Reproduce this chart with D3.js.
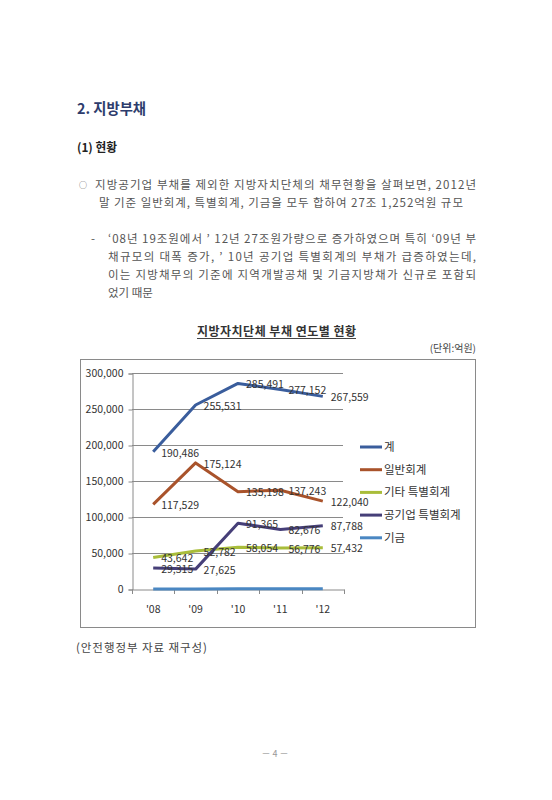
<!DOCTYPE html>
<html>
<head>
<meta charset="utf-8">
<script src="https://cdn.jsdelivr.net/npm/d3@7"></script>
<style>
	body { margin: 0; background: #fff; }
	svg { display: block; font-family: "Noto Sans CJK KR", "Noto Sans", sans-serif; }
</style>
</head>
<body>
<svg id="page"></svg>
<script>
// chart data
var years = ["'08", "'09", "'10", "'11", "'12"];
var seriesNames = ["계", "일반회계", "기타 특별회계", "공기업 특별회계", "기금"];
var total = [190486, 255531, 285491, 277152, 267559];
var general = [117529, 175124, 135198, 137243, 122040];
var otherSpecial = [43642, 52782, 58054, 56776, 57432];
var enterprise = [29315, 27625, 91365, 82676, 87788];
var fund = [0, 0, 300, 300, 300];
var yTicks = [0, 50000, 100000, 150000, 200000, 250000, 300000];

// page text
var bulletLines = [
	"지방공기업 부채를 제외한 지방자치단체의 채무현황을 살펴보면, 2012년",
	"말 기준 일반회계, 특별회계, 기금을 모두 합하여 27조 1,252억원 규모"
];
var dashLines = [
	"‘08년 19조원에서 ’ 12년 27조원가량으로 증가하였으며 특히 ‘09년 부",
	"채규모의 대폭 증가, ’ 10년 공기업 특별회계의 부채가 급증하였는데,",
	"이는 지방채무의 기준에 지역개발공채 및 기금지방채가 신규로 포함되",
	"었기 때문"
];

var series = [
	{ name: seriesNames[0], values: total, color: "#3a5d9c", labels: true },
	{ name: seriesNames[1], values: general, color: "#a9532b", labels: true },
	{ name: seriesNames[2], values: otherSpecial, color: "#a9bd3a", labels: true },
	{ name: seriesNames[3], values: enterprise, color: "#463f78", labels: true },
	{ name: seriesNames[4], values: fund, color: "#4a87c2", labels: false }
];

var svg = d3.select("#page").attr("width", 552).attr("height", 800);

// heading and body text
svg.append("text").attr("x", 77).attr("y", 114)
	.attr("textLength", 69).attr("lengthAdjust", "spacingAndGlyphs")
	.style("font-size", "15px").style("font-weight", "bold").style("fill", "#2d3c6c")
	.text("2. 지방부채");
svg.append("text").attr("x", 77).attr("y", 152)
	.attr("textLength", 40).attr("lengthAdjust", "spacingAndGlyphs")
	.style("font-size", "12px").style("font-weight", "bold").style("fill", "#222")
	.text("(1) 현황");

svg.append("text").attr("x", 79).attr("y", 187.5)
	.style("font-size", "8px").style("fill", "#555").text("○");
var bulletStarts = [95, 99], bulletEnds = [476, 463];
bulletLines.forEach(function(line, i) {
	svg.append("text")
		.attr("x", bulletStarts[i]).attr("y", 189 + i * 18)
		.attr("textLength", bulletEnds[i] - bulletStarts[i])
		.attr("lengthAdjust", "spacing")
		.style("font-size", "11.5px").style("fill", "#555")
		.text(line);
});

svg.append("text").attr("x", 91).attr("y", 243)
	.style("font-size", "11.5px").style("fill", "#555").text("-");
dashLines.forEach(function(line, i) {
	var t = svg.append("text")
		.attr("x", 108).attr("y", 243 + i * 18.1)
		.style("font-size", "11.5px").style("fill", "#555")
		.text(line);
	// justified lines, except the last one
	if (i < dashLines.length - 1) {
		t.attr("textLength", 476 - 108).attr("lengthAdjust", "spacing");
	}
});

// chart title
var title = svg.append("text").attr("x", 276.5).attr("y", 336)
	.attr("text-anchor", "middle")
	.attr("textLength", 159).attr("lengthAdjust", "spacing")
	.style("font-size", "12px").style("font-weight", "bold").style("fill", "#333")
	.text("지방자치단체 부채 연도별 현황");
svg.append("line")
	.attr("x1", 197).attr("x2", 356)
	.attr("y1", 338.5).attr("y2", 338.5)
	.style("stroke", "#444").style("stroke-width", 1);

svg.append("text").attr("x", 476).attr("y", 352)
	.attr("text-anchor", "end")
	.style("font-size", "10px").style("fill", "#444")
	.text("(단위:억원)");

// chart frame
svg.append("rect")
	.attr("x", 80.5).attr("y", 359.5).attr("width", 395).attr("height", 268)
	.style("fill", "none").style("stroke", "#8a8a8a").style("stroke-width", 1);

var x = d3.scaleBand().domain(years).range([132, 344]).padding(0);
var y = d3.scaleLinear().domain([0, 300000]).range([589, 373]);
var cx = function(i) { return x(years[i]) + x.bandwidth() / 2; };

// gridlines
svg.append("g").selectAll("line").data(yTicks.slice(1)).enter().append("line")
	.attr("x1", 132).attr("x2", 343)
	.attr("y1", function(d) { return Math.round(y(d)) + 0.5; })
	.attr("y2", function(d) { return Math.round(y(d)) + 0.5; })
	.style("stroke", "#8a8a8a").style("stroke-width", 1);

// y axis
var yAxis = svg.append("g").attr("transform", "translate(132.5,0.5)")
	.call(d3.axisLeft(y).tickValues(yTicks).tickSize(4).tickPadding(5).tickFormat(d3.format(",")));
yAxis.select(".domain").style("stroke", "#8a8a8a");
yAxis.selectAll(".tick line").style("stroke", "#8a8a8a");
yAxis.selectAll(".tick text")
	.style("font-family", "\"Noto Sans CJK KR\", sans-serif")
	.style("font-size", "10.5px").style("fill", "#333");

// x axis: labels centered in bands, ticks on band boundaries
var xAxis = svg.append("g").attr("transform", "translate(0,589.5)")
	.call(d3.axisBottom(x).tickSize(0).tickPadding(16));
xAxis.select(".domain").style("stroke", "#8a8a8a");
xAxis.selectAll(".tick text")
	.style("font-family", "\"Noto Sans CJK KR\", sans-serif")
	.style("font-size", "10.5px").style("fill", "#333");
svg.append("g").selectAll("line").data(years.concat(["end"])).enter().append("line")
	.attr("x1", function(d, i) { return Math.round(132 + i * x.bandwidth()) + 0.5; })
	.attr("x2", function(d, i) { return Math.round(132 + i * x.bandwidth()) + 0.5; })
	.attr("y1", 589.5).attr("y2", 594)
	.style("stroke", "#8a8a8a");

// lines
var line = d3.line()
	.x(function(d, i) { return cx(i); })
	.y(function(d) { return y(d); });

series.forEach(function(s) {
	svg.append("path")
		.attr("d", line(s.values))
		.style("fill", "none")
		.style("stroke", s.color)
		.style("stroke-width", 3)
		.style("stroke-linejoin", "round");
});

// data labels to the right of each point
series.forEach(function(s) {
	if (!s.labels) return;
	svg.append("g").selectAll("text").data(s.values).enter().append("text")
		.attr("x", function(d, i) { return cx(i) + 8; })
		.attr("y", function(d) { return y(d) + 1; })
		.attr("dy", "0.35em")
		.style("font-size", "10.5px").style("fill", "#333")
		.text(function(d) { return d3.format(",")(d); });
});

// legend
var legend = svg.append("g").selectAll("g").data(series).enter().append("g")
	.attr("transform", function(d, i) { return "translate(360," + (447 + i * 22.7) + ")"; });
legend.append("line")
	.attr("x1", 0).attr("x2", 22)
	.style("stroke", function(d) { return d.color; })
	.style("stroke-width", 3);
legend.append("text")
	.attr("x", 24).attr("dy", "0.35em")
	.style("font-size", "11.5px").style("fill", "#333")
	.text(function(d) { return d.name; });

// source and page number
svg.append("text").attr("x", 76).attr("y", 652)
	.attr("textLength", 131).attr("lengthAdjust", "spacing")
	.style("font-size", "11.5px").style("fill", "#444")
	.text("(안전행정부 자료 재구성)");
svg.append("text").attr("x", 275).attr("y", 757)
	.attr("text-anchor", "middle")
	.style("font-size", "9px").style("fill", "#999")
	.text("－ 4 －");
</script>
</body>
</html>
